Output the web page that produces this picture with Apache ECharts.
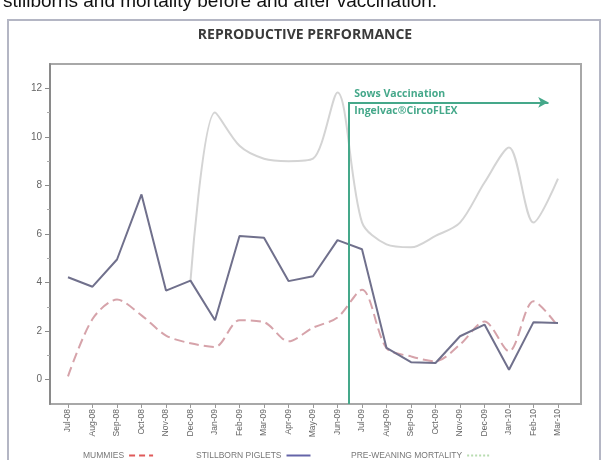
<!DOCTYPE html>
<html>
<head>
<meta charset="utf-8">
<script src="https://cdn.jsdelivr.net/npm/echarts@6/dist/echarts.min.js"></script>
<style>
  html, body { margin: 0; padding: 0; background: #fff; }
  #chart { width: 610px; height: 460px; }
</style>
</head>
<body>
<div id="chart"></div>
<script>
// Monthly reproductive performance, Jul-08 to Mar-10
const months = ['Jul-08','Aug-08','Sep-08','Oct-08','Nov-08','Dec-08','Jan-09','Feb-09','Mar-09','Apr-09','May-09','Jun-09',
                'Jul-09','Aug-09','Sep-09','Oct-09','Nov-09','Dec-09','Jan-10','Feb-10','Mar-10'];
const mummies    = [0.14, 2.5, 3.3, 2.65, 1.82, 1.5, 1.35, 2.45, 2.37, 1.58, 2.14, 2.56, 3.7, 1.3, 0.96, 0.76, 1.45, 2.4, 1.17, 3.23, 2.2];
const stillborn  = [4.22, 3.83, 4.95, 7.63, 3.67, 4.08, 2.45, 5.92, 5.85, 4.06, 4.26, 5.75, 5.37, 1.31, 0.72, 0.69, 1.79, 2.27, 0.41, 2.37, 2.34];
const preWeaning = [null, null, null, null, null, 4.08, 11.0, 9.63, 9.1, 9.0, 9.1, 11.83, 6.48, 5.57, 5.45, 5.92, 6.47, 8.12, 9.56, 6.47, 8.28];

// Value axis ticks
const yMajorTicks = [0, 2, 4, 6, 8, 10, 12];
const yMinorTicks = [1, 3, 5, 7, 9, 11];

// Vaccination marker (x in month index units)
const vaccinationStart = 11.44;
const arrowLevel = 11.42;
const arrowEnd = 19.6;

const green = '#45a88a';
const chart = echarts.init(document.getElementById('chart'));

const yRange = { min: -1, max: 13 };
const legendText = { fontSize: 8.5, color: '#777' };
const noteText = { color: green, fontSize: 10.5, fontWeight: 'bold', fontFamily: 'Open Sans, sans-serif' };

chart.setOption({
  animation: false,
  backgroundColor: '#ffffff',
  textStyle: { fontFamily: 'Liberation Sans, Arial, sans-serif' },
  title: {
    text: 'REPRODUCTIVE PERFORMANCE',
    left: 'center',
    top: 23,
    textStyle: { fontFamily: 'Open Sans, sans-serif', fontSize: 14, fontWeight: 'bold', color: '#3a3a3a' }
  },
  graphic: [
    { type: 'text', left: 3, top: -8,
      style: { text: 'stillborns and mortality before and after vaccination.', fontFamily: 'Liberation Sans, Arial, sans-serif', fontSize: 19, fill: '#111' } },
    { type: 'polyline', silent: true,
      shape: { points: [[8, 460], [8, 20], [600, 20], [600, 460]] },
      style: { stroke: '#b4b6c4', lineWidth: 2, fill: null } }
  ],
  legend: [
    { left: 78, top: 446, align: 'right', itemWidth: 24, itemHeight: 8, textStyle: legendText,
      itemStyle: { opacity: 0 },
      data: [{ name: 'MUMMIES', lineStyle: { color: '#e05a5a', type: [6, 4], width: 2 } }] },
    { left: 191, top: 446, align: 'right', itemWidth: 24, itemHeight: 8, textStyle: legendText,
      itemStyle: { opacity: 0 },
      data: [{ name: 'STILLBORN PIGLETS', lineStyle: { color: '#6464a8', width: 2 } }] },
    { left: 346, top: 446, align: 'right', itemWidth: 24, itemHeight: 8, textStyle: legendText,
      itemStyle: { opacity: 0 },
      data: [{ name: 'PRE-WEANING MORTALITY', lineStyle: { color: '#b8dcb0', type: [2, 2], width: 2 } }] }
  ],
  grid: [
    { left: 50, right: 29, top: 64, bottom: 56, show: true, borderColor: '#a8a8a8', borderWidth: 2, backgroundColor: '#fff' },
    { left: 68, right: 52, top: 64, bottom: 56 }
  ],
  xAxis: [
    { gridIndex: 0, type: 'value', show: false },
    { gridIndex: 1, type: 'category', data: months, boundaryGap: false, position: 'bottom',
      axisLine: { show: false, onZero: false },
      axisTick: { show: true, length: 4, lineStyle: { color: '#999' } },
      axisLabel: { rotate: 90, fontSize: 8.5, color: '#666', margin: 5 } },
    { gridIndex: 1, type: 'value', min: 0, max: months.length - 1, show: false }
  ],
  yAxis: [
    { gridIndex: 0, type: 'value', position: 'left', min: yRange.min, max: yRange.max,
      splitLine: { show: false },
      axisLine: { show: true, lineStyle: { color: '#8a8a8a', width: 2 } },
      axisTick: { show: true, length: 5, customValues: yMajorTicks, lineStyle: { color: '#8a8a8a' } },
      axisLabel: { customValues: yMajorTicks, fontSize: 10, color: '#666', margin: 8 } },
    { gridIndex: 0, type: 'value', position: 'left', offset: 0, min: yRange.min, max: yRange.max,
      splitLine: { show: false },
      axisLine: { show: false },
      axisTick: { show: true, length: 3, customValues: yMinorTicks, lineStyle: { color: '#aaa' } },
      axisLabel: { show: false } },
    { gridIndex: 1, type: 'value', min: yRange.min, max: yRange.max, show: false }
  ],
  series: [
    { name: 'PRE-WEANING MORTALITY', type: 'line', xAxisIndex: 1, yAxisIndex: 2, data: preWeaning,
      symbol: 'none', smooth: 0.3, lineStyle: { color: '#d4d4d4', width: 2 }, itemStyle: { color: '#d4d4d4' }, z: 2 },
    { name: 'MUMMIES', type: 'line', xAxisIndex: 1, yAxisIndex: 2, data: mummies,
      symbol: 'none', smooth: 0.3, lineStyle: { color: '#d6a3aa', width: 2, type: [10, 5] }, itemStyle: { color: '#e06060' }, z: 3 },
    { name: 'STILLBORN PIGLETS', type: 'line', xAxisIndex: 1, yAxisIndex: 2, data: stillborn,
      symbol: 'none', lineStyle: { color: '#70708c', width: 2 }, itemStyle: { color: '#6a6aa0' }, z: 4 },
    { name: 'vaccination', type: 'line', xAxisIndex: 2, yAxisIndex: 2, data: [], z: 5,
      markLine: {
        silent: true, symbol: ['none', 'none'], symbolSize: 10,
        lineStyle: { color: green, width: 2, type: 'solid' },
        label: { show: false },
        data: [
          [{ coord: [vaccinationStart, yRange.min] }, { coord: [vaccinationStart, arrowLevel] }],
          [{ coord: [vaccinationStart, arrowLevel], symbol: 'none' },
           { coord: [arrowEnd, arrowLevel], symbol: 'arrow', symbolSize: [8, 10] }],
          [{ coord: [vaccinationStart, arrowLevel],
             label: Object.assign({ show: true, formatter: 'Sows Vaccination', position: 'insideStartTop', distance: [6, 3] }, noteText) },
           { coord: [arrowEnd, arrowLevel] }],
          [{ coord: [vaccinationStart, arrowLevel],
             label: Object.assign({ show: true, formatter: 'Ingelvac\u00AECircoFLEX', position: 'insideStartBottom', distance: [6, 3] }, noteText) },
           { coord: [arrowEnd, arrowLevel] }]
        ]
      } }
  ]
});
</script>
</body>
</html>
